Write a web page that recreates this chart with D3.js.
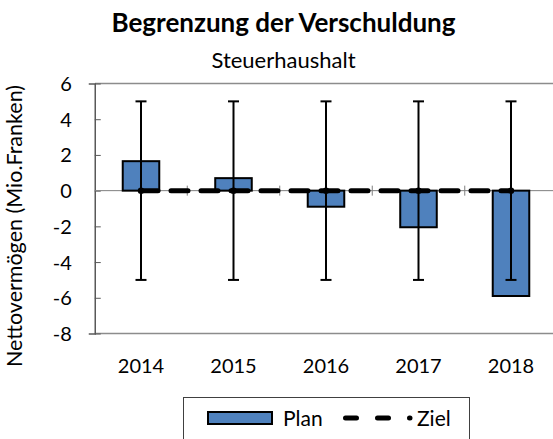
<!DOCTYPE html>
<html>
<head>
<meta charset="utf-8">
<script src="https://cdn.jsdelivr.net/npm/d3@7"></script>
<style>
  body { margin: 0; background: #fff; }
  svg text { font-family: Lato, "Open Sans", sans-serif; fill: #000; }
</style>
</head>
<body>
<div id="chart"></div>
<script>
// chart values
const years = ["2014", "2015", "2016", "2017", "2018"];
const plan = [1.65, 0.7, -0.9, -2.05, -5.9];
const ziel = [0, 0, 0, 0, 0];
const errLow = [-5, -5, -5, -5, -5];
const errHigh = [5, 5, 5, 5, 5];
const yTicks = [-8, -6, -4, -2, 0, 2, 4, 6];

const width = 553, height = 439;
const barColor = "#4f81bd";
const gridGrey = "#8c8c8c";

const svg = d3.select("#chart").append("svg")
  .attr("width", width)
  .attr("height", height);

svg.append("rect").attr("width", width).attr("height", height).attr("fill", "#fff");

// scales - plot area runs past the right edge like in the original export
const x = d3.scaleBand().domain(years).range([94.75, 557.25]).padding(0);
const y = d3.scaleLinear().domain([-8, 6]).range([333.5, 83.5]);

// titles
svg.append("text")
  .attr("x", 283.5).attr("y", 32)
  .attr("text-anchor", "middle")
  .style("font-size", "26px").style("font-weight", "bold")
  .text("Begrenzung der Verschuldung");
svg.append("text")
  .attr("x", 283.5).attr("y", 68)
  .attr("text-anchor", "middle")
  .style("font-size", "22px")
  .text("Steuerhaushalt");

// plot frame (top + bottom)
svg.append("line")
  .attr("x1", 95).attr("x2", width).attr("y1", y(6)).attr("y2", y(6))
  .attr("stroke", gridGrey).attr("stroke-width", 1.5);
svg.append("line")
  .attr("x1", 95).attr("x2", width).attr("y1", y(-8)).attr("y2", y(-8))
  .attr("stroke", gridGrey).attr("stroke-width", 1.5);

// y axis
const yAxis = svg.append("g")
  .attr("transform", `translate(${x.range()[0]},0)`)
  .call(d3.axisLeft(y).tickValues(yTicks).tickSize(6).tickPadding(17)
    .tickFormat((d) => String(d)));
yAxis.select(".domain").attr("stroke", "#595959").attr("stroke-width", 1.5);
yAxis.selectAll(".tick line").attr("stroke", "#595959").attr("x2", 6);
yAxis.selectAll(".tick text").style("font-size", "20px").attr("dy", "0.35em");

svg.append("text")
  .attr("transform", `translate(22,226)rotate(-90)`)
  .attr("text-anchor", "middle")
  .style("font-size", "21.5px")
  .text("Nettovermögen (Mio.Franken)");

// zero axis with cross ticks at category borders
svg.append("line")
  .attr("x1", x.range()[0]).attr("x2", width)
  .attr("y1", y(0)).attr("y2", y(0))
  .attr("stroke", "#7f7f7f").attr("stroke-width", 1);
svg.append("g").selectAll("line")
  .data(years.slice(1))
  .join("line")
  .attr("x1", (d) => x(d)).attr("x2", (d) => x(d))
  .attr("y1", y(0) - 5).attr("y2", y(0) + 5)
  .attr("stroke", "#7f7f7f");

// x labels
svg.append("g").selectAll("text")
  .data(years)
  .join("text")
  .attr("x", (d) => x(d) + x.bandwidth() / 2)
  .attr("y", 373)
  .attr("text-anchor", "middle")
  .style("font-size", "20px")
  .text((d) => d);

// bars
const bw = x.bandwidth() * 0.395;
svg.append("g").selectAll("rect")
  .data(years)
  .join("rect")
  .attr("x", (d) => x(d) + x.bandwidth() / 2 - bw / 2)
  .attr("y", (d, i) => y(Math.max(0, plan[i])))
  .attr("width", bw)
  .attr("height", (d, i) => Math.abs(y(plan[i]) - y(0)))
  .attr("fill", barColor)
  .attr("stroke", "#000")
  .attr("stroke-width", 2);

// error bars
const eb = svg.append("g").attr("stroke", "#000").attr("stroke-width", 2);
years.forEach((d, i) => {
  const cx = x(d) + x.bandwidth() / 2;
  eb.append("line").attr("x1", cx).attr("x2", cx).attr("y1", y(errHigh[i])).attr("y2", y(errLow[i]));
  eb.append("line").attr("x1", cx - 5.5).attr("x2", cx + 5.5).attr("y1", y(errHigh[i])).attr("y2", y(errHigh[i]));
  eb.append("line").attr("x1", cx - 5.5).attr("x2", cx + 5.5).attr("y1", y(errLow[i])).attr("y2", y(errLow[i]));
});

// Ziel line
const line = d3.line()
  .x((d, i) => x(years[i]) + x.bandwidth() / 2)
  .y((d) => y(d));
svg.append("path")
  .datum(ziel)
  .attr("d", line)
  .attr("fill", "none")
  .attr("stroke", "#000")
  .attr("stroke-width", 5)
  .attr("stroke-linecap", "round")
  .attr("stroke-dasharray", "17,13");
svg.append("g").selectAll("circle")
  .data(ziel)
  .join("circle")
  .attr("cx", (d, i) => x(years[i]) + x.bandwidth() / 2)
  .attr("cy", (d) => y(d))
  .attr("r", 3.2)
  .attr("fill", "#000");

// legend
const lg = svg.append("g");
lg.append("rect")
  .attr("x", 183.5).attr("y", 397.5).attr("width", 286).attr("height", 60)
  .attr("fill", "#fff").attr("stroke", "#404040").attr("stroke-width", 1);
lg.append("rect")
  .attr("x", 208).attr("y", 412).attr("width", 64).attr("height", 12)
  .attr("fill", barColor).attr("stroke", "#000").attr("stroke-width", 2);
lg.append("text")
  .attr("x", 283).attr("y", 426)
  .style("font-size", "21px")
  .text("Plan");
lg.append("line")
  .attr("x1", 345.5).attr("x2", 410).attr("y1", 418).attr("y2", 418)
  .attr("stroke", "#000").attr("stroke-width", 5)
  .attr("stroke-linecap", "round")
  .attr("stroke-dasharray", "11,21");
lg.append("text")
  .attr("x", 417).attr("y", 426)
  .style("font-size", "21px")
  .text("Ziel");
</script>
</body>
</html>
